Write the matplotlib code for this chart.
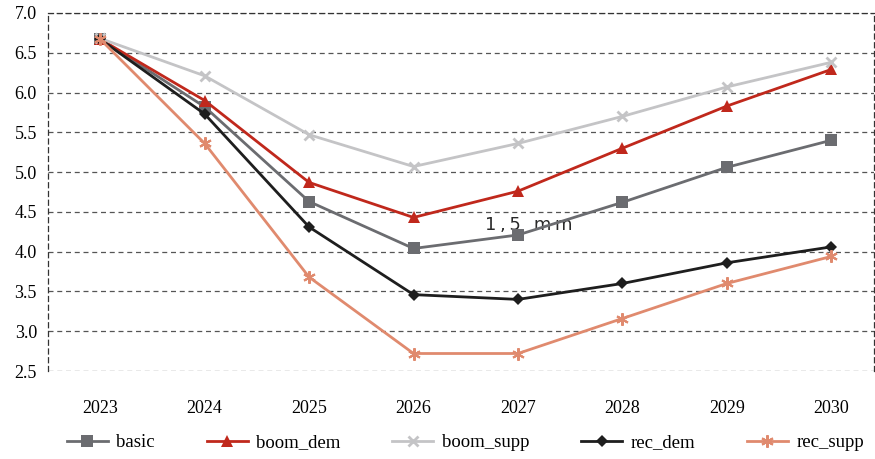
import matplotlib
matplotlib.use("Agg")
import matplotlib.pyplot as plt

years = ["2023", "2024", "2025", "2026", "2027", "2028", "2029", "2030"]
basic = [6.67, 5.82, 4.63, 4.04, 4.21, 4.62, 5.06, 5.40]
boom_dem = [6.67, 5.90, 4.87, 4.43, 4.76, 5.30, 5.83, 6.29]
boom_supp = [6.68, 6.21, 5.47, 5.07, 5.36, 5.70, 6.07, 6.38]
rec_dem = [6.67, 5.73, 4.31, 3.46, 3.40, 3.60, 3.86, 4.06]
rec_supp = [6.67, 5.36, 3.68, 2.72, 2.72, 3.16, 3.60, 3.94]
y_ticks = [2.5, 3.0, 3.5, 4.0, 4.5, 5.0, 5.5, 6.0, 6.5, 7.0]

plt.rcParams["font.family"] = ["Liberation Serif", "DejaVu Serif"]

fig = plt.figure(figsize=(8.75, 4.59), dpi=100)
ax = fig.add_axes([0.0549, 0.1917, 0.944, 0.78])

x = list(range(len(years)))
series = [
    ("basic", basic, "#6b6c70", "s", 8, 0),
    ("boom_dem", boom_dem, "#c0281c", "^", 8, 0),
    ("boom_supp", boom_supp, "#c4c4c6", "x", 7, 2),
    ("rec_dem", rec_dem, "#1e1e1e", "D", 6, 0),
    ("rec_supp", rec_supp, "#e08a6e", (6, 2, 0), 9, 1.5),
]
for name, vals, color, marker, ms, mew in series:
    ax.plot(x, vals, color=color, lw=2, marker=marker, markersize=ms,
            markeredgewidth=mew, label=name, zorder=3)

# annotation sitting under the curves, letter-spaced
ax.text(4.1, 4.34, "1\u2009,\u20095\u2009 \u2009m\u2009m", family="DejaVu Sans",
        fontsize=13, color="#2a2a2a", ha="center", va="center", zorder=2)

ax.set_ylim(2.5, 7.0)
ax.set_yticks(y_ticks)
ax.set_yticklabels([f"{v:.1f}" for v in y_ticks], fontsize=13)
ax.set_xlim(-0.5, 7.41)
ax.set_xticks(x)
ax.set_xticklabels(years, fontsize=13)
ax.tick_params(axis="y", length=0, pad=8)
ax.tick_params(axis="x", length=0, pad=21)

ax.yaxis.grid(True, linestyle=(0, (4, 3)), color="#555555", lw=0.9)
ax.set_axisbelow(True)
for side in ["left", "right", "top"]:
    ax.spines[side].set_linestyle((0, (4, 3)))
    ax.spines[side].set_color("#333333")
    ax.spines[side].set_linewidth(0.9)
ax.spines["bottom"].set_visible(False)

fig.legend(loc="lower center", ncol=5, bbox_to_anchor=(0.532, -0.02),
           frameon=False, fontsize=13.5, handlelength=2.2, columnspacing=2.75,
           handletextpad=0.45)

fig.savefig("out.png", dpi=100)
